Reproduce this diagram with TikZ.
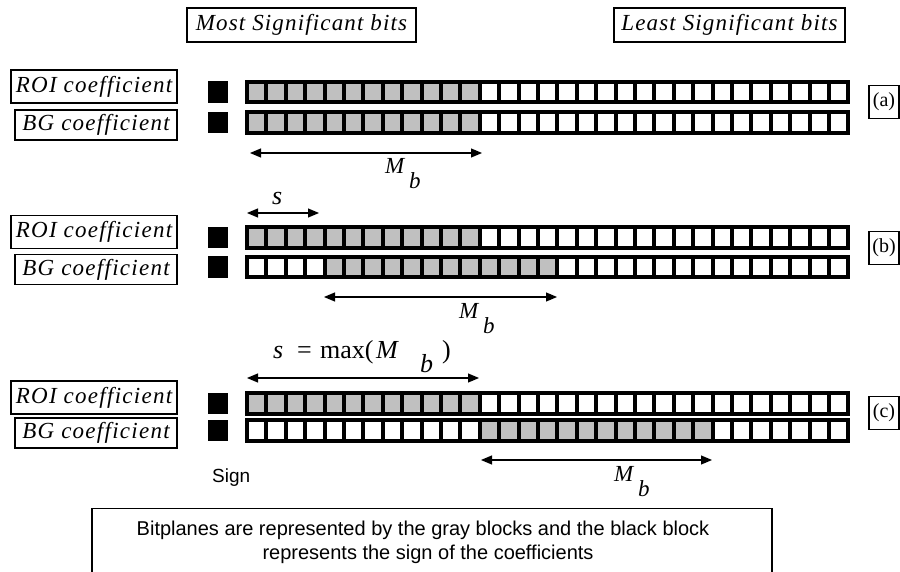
\documentclass[tikz,border=0pt]{standalone}
\usepackage{fontspec}
\setmainfont{Liberation Serif}
\setsansfont{Liberation Sans}
\newfontfamily\lblfont[LetterSpace=5.5]{Liberation Serif}
\newfontfamily\topfont[LetterSpace=5]{Liberation Serif}
\usetikzlibrary{arrows.meta}
\definecolor{cellgray}{RGB}{192,192,192}
\tikzset{
 lblbox/.style={draw, line width=1.6pt, inner sep=0pt, font=\fontsize{23}{26}\selectfont\lblfont\itshape},
 topbox/.style={draw, line width=1.6pt, inner sep=0pt, font=\fontsize{23}{26}\selectfont\topfont\itshape},
 tagbox/.style={draw, line width=1.6pt, inner sep=0pt, minimum width=30pt, minimum height=33pt, font=\fontsize{20}{24}\selectfont},
 dimarrow/.style={line width=1.2pt, {Triangle[length=11pt,width=9pt]}-{Triangle[length=11pt,width=9pt]}},
 mblbl/.style={font=\fontsize{23}{26}\selectfont\itshape, inner sep=0pt, anchor=base west},
 fmlbl/.style={font=\fontsize{26}{30}\selectfont, inner sep=0pt, anchor=base west},
 notelbl/.style={font=\fontsize{20}{24}\selectfont\sffamily, inner sep=0pt, anchor=base},
}
\newcommand\bitrow[3]{%
  \fill[black] (208,#1+1.5) rectangle (228,#1+23);
  \fill[black] (245,#1) rectangle (850.4,#1+24.5);
  \foreach \i in {0,...,30}{%
    \ifnum\i<#2\relax\def\cc{white}\else\ifnum\i<#3\relax\def\cc{cellgray}\else\def\cc{white}\fi\fi
    \fill[\cc] ({249+19.4*\i},#1+4) rectangle ({264.4+19.4*\i},#1+20.5);
  }%
}
\begin{document}
\begin{tikzpicture}[x=1pt,y=-1pt]
\useasboundingbox (0,0) rectangle (900,572);
% top labels
\node[topbox, minimum width=229pt, minimum height=34pt] (msb) at (301.5,25) {Most Significant bits};
\node[topbox, minimum width=231pt, minimum height=34pt] (lsb) at (729.5,25) {Least Significant bits};
% row a
\node[lblbox, minimum width=166pt, minimum height=33pt] (roia) at (94,86.5) {ROI coefficient};
\node[lblbox, minimum width=162pt, minimum height=30pt] (bga) at (96,125) {BG coefficient};
\bitrow{80}{0}{12}
\bitrow{110.5}{0}{12}
\node[tagbox] (taga) at (884,102) {(a)};
\coordinate (ma1) at (250,153);
\coordinate (ma2) at (482,153);
\draw[dimarrow] (ma1) -- (ma2);
\node[mblbl] (Ma) at (385,174) {M};
\node[mblbl] (ba) at (409,189) {b};
% row b
\node[fmlbl] (sb) at (272,205) {\itshape s};
\coordinate (sb1) at (247,213);
\coordinate (sb2) at (319,213);
\draw[dimarrow] (sb1) -- (sb2);
\node[lblbox, minimum width=166pt, minimum height=33pt] (roib) at (94,232) {ROI coefficient};
\node[lblbox, minimum width=162pt, minimum height=30pt] (bgb) at (96,269.5) {BG coefficient};
\bitrow{225.5}{0}{12}
\bitrow{255}{4}{16}
\node[tagbox] (tagb) at (884,248) {(b)};
\coordinate (mb1) at (324,297);
\coordinate (mb2) at (557,297);
\draw[dimarrow] (mb1) -- (mb2);
\node[mblbl] (Mb) at (459,318) {M};
\node[mblbl] (bb) at (483,333) {b};
% row c
\node[fmlbl] (fs) at (273,358) {\itshape s};
\node[fmlbl] (feq) at (297,358) {=};
\node[fmlbl] (fmax) at (320,358) {max(};
\node[fmlbl] (fM) at (376,358) {\itshape M};
\node[fmlbl] (fb) at (420,372) {\itshape b};
\node[fmlbl] (fcl) at (442,358) {)};
\coordinate (sc1) at (247,378);
\coordinate (sc2) at (479,378);
\draw[dimarrow] (sc1) -- (sc2);
\node[lblbox, minimum width=166pt, minimum height=33pt] (roic) at (94,397.5) {ROI coefficient};
\node[lblbox, minimum width=162pt, minimum height=30pt] (bgc) at (96,433) {BG coefficient};
\bitrow{391}{0}{12}
\bitrow{418}{12}{24}
\node[tagbox] (tagc) at (884,413) {(c)};
\node[font=\fontsize{19}{22}\selectfont\sffamily, inner sep=0pt, anchor=base west] (sign) at (212,482) {Sign};
\coordinate (mc1) at (481,460);
\coordinate (mc2) at (712,460);
\draw[dimarrow] (mc1) -- (mc2);
\node[mblbl] (Mc) at (614,481) {M};
\node[mblbl] (bc) at (638,496) {b};
% bottom note
\draw[line width=1.5pt] (92,572) -- (92,508.5) -- (772,508.5) -- (772,572);
\node[notelbl] (note1) at (423,535) {Bitplanes are represented by the gray blocks and the black block};
\node[notelbl] (note2) at (428,559) {represents the sign of the coefficients};
\end{tikzpicture}
\end{document}
